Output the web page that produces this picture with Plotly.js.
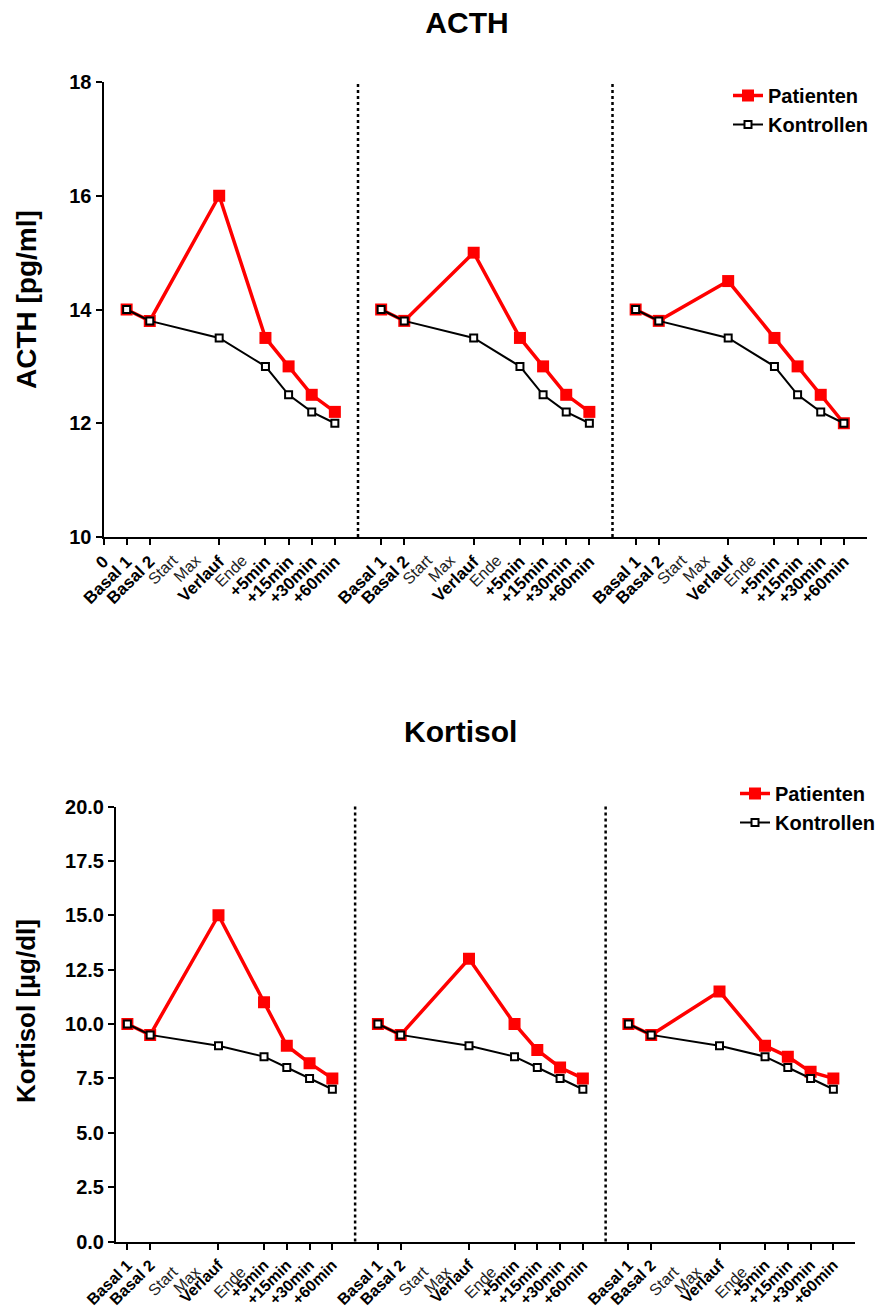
<!DOCTYPE html>
<html><head><meta charset="utf-8">
<script src="https://cdn.plot.ly/plotly-3.0.1.min.js"></script>
<style>html,body{margin:0;padding:0;background:#fff}</style>
</head><body><div id="chart" style="width:882px;height:1307px"></div>
<script>
// ---- data ----
const categories = ['Basal 1','Basal 2','Verlauf','+5min','+15min','+30min','+60min'];
const catSlots = [1,2,5,7,8,9,10];
const phaseLabels = ['Start','Max','Ende'];
const phaseSlots = [3,4,6];
const panelStride = 11;

const acthPatienten = [
  [14, 13.8, 16, 13.5, 13, 12.5, 12.2],
  [14, 13.8, 15, 13.5, 13, 12.5, 12.2],
  [14, 13.8, 14.5, 13.5, 13, 12.5, 12.0]
];
const acthKontrollen = [
  [14, 13.8, 13.5, 13, 12.5, 12.2, 12],
  [14, 13.8, 13.5, 13, 12.5, 12.2, 12],
  [14, 13.8, 13.5, 13, 12.5, 12.2, 12]
];
const kortisolPatienten = [
  [10, 9.5, 15, 11, 9, 8.2, 7.5],
  [10, 9.5, 13, 10, 8.8, 8, 7.5],
  [10, 9.5, 11.5, 9, 8.5, 7.8, 7.5]
];
const kortisolKontrollen = [
  [10, 9.5, 9, 8.5, 8, 7.5, 7],
  [10, 9.5, 9, 8.5, 8, 7.5, 7],
  [10, 9.5, 9, 8.5, 8, 7.5, 7]
];
const acthTicks = [10, 12, 14, 16, 18];
const kortisolTicks = [0, 2.5, 5, 7.5, 10, 12.5, 15, 17.5, 20];

// ---- helpers ----
const FONT = 'Liberation Sans, Arial, sans-serif';
function series(panels) {
  const x = [], y = [];
  panels.forEach((vals, p) => {
    if (p > 0) { x.push(null); y.push(null); }
    vals.forEach((v, i) => { x.push(catSlots[i] + p * panelStride); y.push(v); });
  });
  return {x, y};
}
function ticks(slots, labels, withZero) {
  const vals = [], text = [];
  if (withZero) { vals.push(0); text.push('0'); }
  for (let p = 0; p < 3; p++) slots.forEach((s, i) => { vals.push(s + p * panelStride); text.push(labels[i]); });
  return {vals, text};
}
function patTrace(panels, xa, ya, leg) {
  const s = series(panels);
  return {x: s.x, y: s.y, xaxis: xa, yaxis: ya, legend: leg, name: 'Patienten', type: 'scatter',
    mode: 'lines+markers', connectgaps: false, hoverinfo: 'skip',
    line: {color: '#ff0000', width: 3.5}, marker: {symbol: 'square', size: 12, color: '#ff0000'}};
}
function konTrace(panels, xa, ya, leg) {
  const s = series(panels);
  return {x: s.x, y: s.y, xaxis: xa, yaxis: ya, legend: leg, name: 'Kontrollen', type: 'scatter',
    mode: 'lines+markers', connectgaps: false, hoverinfo: 'skip',
    line: {color: '#000000', width: 2}, marker: {symbol: 'square', size: 7, color: '#ffffff', line: {color: '#000000', width: 2}}};
}
const W = 882, H = 1307;
const topMain = ticks(catSlots, categories, true);
const topPhase = ticks(phaseSlots, phaseLabels, false);
const botMain = ticks(catSlots, categories, false);
const botPhase = ticks(phaseSlots, phaseLabels, false);

const data = [
  patTrace(acthPatienten, 'x', 'y', 'legend'),
  konTrace(acthKontrollen, 'x', 'y', 'legend'),
  patTrace(kortisolPatienten, 'x3', 'y2', 'legend2'),
  konTrace(kortisolKontrollen, 'x3', 'y2', 'legend2'),
  {x: [], y: [], xaxis: 'x2', yaxis: 'y', showlegend: false, hoverinfo: 'skip', type: 'scatter'},
  {x: [], y: [], xaxis: 'x4', yaxis: 'y2', showlegend: false, hoverinfo: 'skip', type: 'scatter'}
];

const topXDom = [103.5 / W, 867 / W];
const topYDom = [1 - 537 / H, 1 - 82 / H];
const botXDom = [116 / W, 855 / W];
const botYDom = [1 - 1241.5 / H, 1 - 806.5 / H];
const topRange = [0, 33];
const botRange = [0.5, 32.95];

function mainX(dom, range, t, anchor, size) {
  return {domain: dom, range: range, anchor: anchor, tickmode: 'array', tickvals: t.vals, ticktext: t.text,
    tickangle: -45, ticks: 'outside', ticklen: 6, tickwidth: 2, tickcolor: '#000', showline: true, linewidth: 2,
    linecolor: '#000', showgrid: false, zeroline: false,
    tickfont: {family: FONT, size: size, color: '#000', weight: 'bold'}, automargin: false, fixedrange: true};
}
function phaseX(dom, range, t, anchor, over, standoff, size) {
  return {domain: dom, range: range, anchor: anchor, overlaying: over, side: 'bottom', tickmode: 'array',
    tickvals: t.vals, ticktext: t.text, tickangle: -45, ticks: '', showline: false, showgrid: false,
    zeroline: false, tickfont: {family: FONT, size: size, color: '#222'}, ticklabelstandoff: standoff,
    automargin: false, fixedrange: true};
}
function mainY(dom, range, vals, fmt, anchor) {
  return {domain: dom, range: range, anchor: anchor, tickmode: 'array', tickvals: vals,
    ticktext: vals.map(v => fmt ? v.toFixed(1) : String(v)), ticks: 'outside', ticklen: 6, tickwidth: 2,
    tickcolor: '#000', showline: true, linewidth: 2, linecolor: '#000', showgrid: false, zeroline: false,
    tickfont: {family: FONT, size: 20, color: '#000', weight: 'bold'}, automargin: false, fixedrange: true};
}
function divider(xv, xr, yr) {
  return {type: 'line', xref: xr, yref: yr + ' domain', x0: xv, x1: xv, y0: 0, y1: 1,
    line: {color: '#000', width: 2.5, dash: 'dot'}};
}
const layout = {
  width: W, height: H, margin: {l: 0, r: 0, t: 0, b: 0}, paper_bgcolor: '#fff', plot_bgcolor: '#fff',
  font: {family: FONT, color: '#000'},
  title: {text: 'ACTH', font: {family: FONT, size: 30, weight: 'bold', color: '#000'}, x: 467 / W, xanchor: 'center', y: 1 - 22 / H, yanchor: 'middle'},
  xaxis: mainX(topXDom, topRange, topMain, 'y', 17),
  xaxis2: phaseX(topXDom, topRange, topPhase, 'y', 'x', 10, 16),
  yaxis: mainY(topYDom, [10, 18], acthTicks, false, 'x'),
  xaxis3: mainX(botXDom, botRange, botMain, 'y2', 16),
  xaxis4: phaseX(botXDom, botRange, botPhase, 'y2', 'x3', 17, 16),
  yaxis2: mainY(botYDom, [0, 20], kortisolTicks, true, 'x3'),
  shapes: [divider(11, 'x', 'y'), divider(22, 'x', 'y'), divider(11, 'x3', 'y2'), divider(22, 'x3', 'y2')],
  legend: {x: 728 / W, y: 1 - 76 / H, xanchor: 'left', yanchor: 'top', bgcolor: 'rgba(0,0,0,0)', tracegroupgap: 0,
    font: {family: FONT, size: 20, weight: 'bold', color: '#000'}},
  legend2: {x: 735 / W, y: 1 - 774 / H, xanchor: 'left', yanchor: 'top', bgcolor: 'rgba(0,0,0,0)', tracegroupgap: 0,
    font: {family: FONT, size: 20, weight: 'bold', color: '#000'}},
  annotations: [
    {text: 'Kortisol', xref: 'paper', yref: 'paper', x: 461 / W, y: 1 - 731 / H, xanchor: 'center', yanchor: 'middle',
      showarrow: false, font: {family: FONT, size: 30, weight: 'bold', color: '#000'}},
    {text: 'ACTH [pg/ml]', xref: 'paper', yref: 'paper', x: 26 / W, y: 1 - 300 / H, xanchor: 'center', yanchor: 'middle',
      textangle: -90, showarrow: false, font: {family: FONT, size: 28, weight: 'bold', color: '#000'}},
    {text: 'Kortisol [µg/dl]', xref: 'paper', yref: 'paper', x: 26 / W, y: 1 - 1011 / H, xanchor: 'center', yanchor: 'middle',
      textangle: -90, showarrow: false, font: {family: FONT, size: 26, weight: 'bold', color: '#000'}}
  ]
};
Plotly.newPlot('chart', data, layout, {displayModeBar: false, staticPlot: true});
</script></body></html>
